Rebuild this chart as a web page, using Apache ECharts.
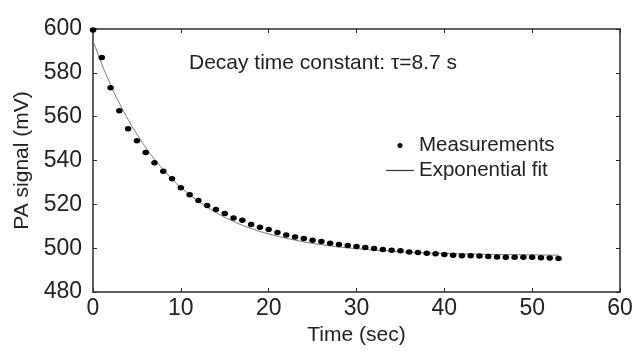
<!DOCTYPE html>
<html>
<head>
<meta charset="utf-8">
<style>
  html, body { margin: 0; padding: 0; background: #fff; }
  #chart { width: 636px; height: 351px; }
</style>
<script src="https://cdn.jsdelivr.net/npm/echarts@6/dist/echarts.min.js"></script>
</head>
<body>
<div id="chart"></div>
<script>
// measured PA signal, one point per second
var measTime = [0, 1, 2, 3, 4, 5, 6, 7, 8, 9, 10, 11, 12, 13, 14, 15, 16, 17, 18, 19, 20,
  21, 22, 23, 24, 25, 26, 27, 28, 29, 30, 31, 32, 33, 34, 35, 36, 37, 38, 39, 40,
  41, 42, 43, 44, 45, 46, 47, 48, 49, 50, 51, 52, 53];
var measValue = [599.5, 587.0, 573.2, 562.7, 554.5, 549.0, 543.6, 539.0, 535.1, 531.7, 527.6,
  524.4, 521.8, 519.5, 517.6, 515.8, 513.8, 512.7, 510.8, 509.5, 508.5,
  507.1, 506.0, 505.1, 504.4, 503.6, 503.0, 502.3, 501.7, 501.2, 500.8,
  500.3, 499.9, 499.4, 499.1, 498.8, 498.3, 498.0, 497.7, 497.4, 497.1,
  496.8, 496.5, 496.5, 496.4, 496.2, 496.0, 495.9, 495.9, 495.8, 495.8,
  495.6, 495.5, 495.3];
// fit curve
var fitTime = [0, 1, 2, 3, 4, 5, 6, 7, 8, 9, 10, 12, 14, 16, 18, 20, 23, 26, 30, 35, 40, 45, 53];
var fitValue = [594.8, 584.0, 574.6, 566.2, 558.7, 552.0, 546.0, 540.6, 535.8, 531.5, 527.7,
  521.4, 516.3, 512.2, 509.0, 506.5, 503.7, 501.6, 499.8, 498.4, 497.6, 497.2, 496.8];

var xTicks = { min: 0, max: 60, interval: 10 };
var yTicks = { min: 480, max: 600, interval: 20 };

(function () {
  var myChart = echarts.init(document.getElementById('chart'));
  var font = 'Liberation Sans, Arial, sans-serif';
  var axisColor = '#2b2b2b';

  var measData = measTime.map(function (t, i) { return [t, measValue[i]]; });
  var fitData = fitTime.map(function (t, i) { return [t, fitValue[i]]; });

  function boxAxis(pos, ticks) {
    return {
      type: 'value',
      position: pos,
      min: ticks.min, max: ticks.max, interval: ticks.interval,
      axisLine: { show: true, onZero: false, lineStyle: { color: axisColor, width: 1.5 } },
      axisTick: { show: true, inside: true, length: 4, lineStyle: { color: axisColor, width: 1 } },
      axisLabel: { show: false },
      splitLine: { show: false }
    };
  }

  var xBottom = boxAxis('bottom', xTicks);
  xBottom.name = 'Time (sec)';
  xBottom.nameLocation = 'middle';
  xBottom.nameGap = 30;
  xBottom.nameTextStyle = { fontFamily: font, fontSize: 21, color: '#222' };
  xBottom.axisLabel = { show: true, margin: 5, fontFamily: font, fontSize: 23, color: '#222' };

  var yLeft = boxAxis('left', yTicks);
  yLeft.name = 'PA signal (mV)';
  yLeft.nameLocation = 'middle';
  yLeft.nameGap = 58;
  yLeft.nameTextStyle = { fontFamily: font, fontSize: 21, color: '#222' };
  yLeft.axisLabel = { show: true, margin: 11, fontFamily: font, fontSize: 23, color: '#222' };

  var option = {
    backgroundColor: '#fff',
    animation: false,
    grid: { left: 93, right: 16, top: 29, bottom: 59 },
    xAxis: [xBottom, boxAxis('top', xTicks)],
    yAxis: [yLeft, boxAxis('right', yTicks)],
    legend: {
      orient: 'vertical',
      left: 381,
      top: 130,
      itemWidth: 28,
      itemHeight: 5,
      itemGap: 4,
      textStyle: { fontFamily: font, fontSize: 20.5, color: '#222', lineHeight: 20 },
      data: [
        { name: 'Measurements', icon: 'circle', itemStyle: { color: '#000', opacity: 1 } },
        { name: 'Exponential fit', icon: 'path://M0 0H28V1.2H0Z', itemStyle: { color: '#333', opacity: 1 } }
      ]
    },
    graphic: [{
      type: 'text',
      left: 189,
      top: 53,
      style: {
        text: 'Decay time constant: τ=8.7 s',
        font: '21px Liberation Sans, Arial, sans-serif',
        fill: '#222'
      }
    }],
    series: [
      {
        name: 'Exponential fit',
        type: 'line',
        data: fitData,
        smooth: true,
        symbol: 'none',
        clip: false,
        lineStyle: { color: '#777', width: 1 },
        itemStyle: { color: '#333' },
        z: 2
      },
      {
        name: 'Measurements',
        type: 'scatter',
        data: measData,
        symbol: 'circle',
        symbolSize: [6.5, 5.5],
        clip: false,
        itemStyle: { color: '#000', opacity: 1 },
        z: 3
      }
    ]
  };
  myChart.setOption(option);
})();
</script>
</body>
</html>
